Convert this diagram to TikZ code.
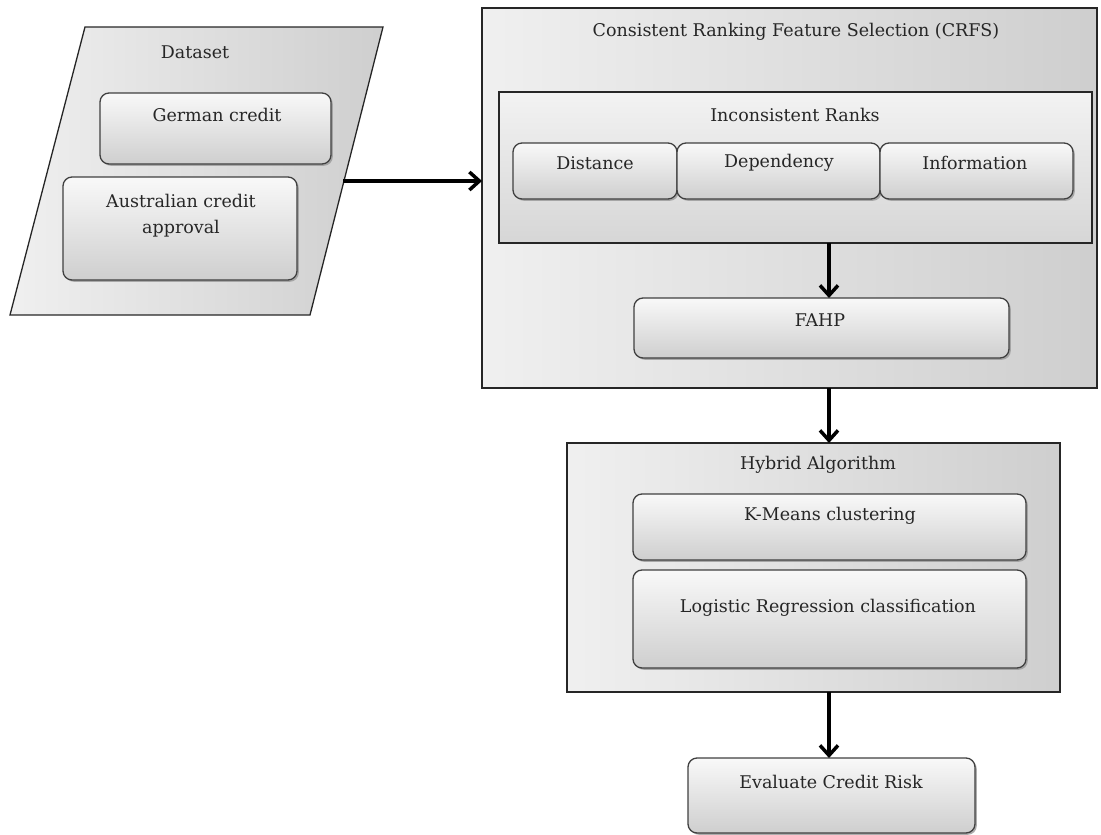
\documentclass[tikz,border=0pt]{standalone}
\usepackage{fontspec}
\setmainfont{DejaVu Serif}
\usetikzlibrary{arrows.meta,shadows}
\begin{document}
\begin{tikzpicture}[x=1pt,y=-1pt,
  every node/.style={inner sep=0pt, outer sep=0pt},
  txt/.style={font=\fontsize{17.5}{21}\selectfont, text=black!85},
  cbox/.style={draw=black!85, line width=1.3pt, shading angle=80, left color=gray!12, right color=gray!38},
  ibox/.style={draw=black!85, line width=1.3pt, top color=gray!10, bottom color=gray!32},
  rbox/.style={draw=black!75, line width=1.3pt, rounded corners=9pt, top color=gray!5, bottom color=gray!38,
     drop shadow={shadow xshift=1.8pt, shadow yshift=-1.8pt, fill=gray!80, opacity=0.8}},
  arr/.style={line width=3.5pt, -{Straight Barb[length=10pt,width=18pt]}}
]
\useasboundingbox (0,0) rectangle (1101,835);
% Dataset parallelogram
\path[draw=black!85, line width=1.3pt, shading angle=80, left color=gray!12, right color=gray!38]
  (85,27) coordinate (dsA) -- (383,27) coordinate (dsB) -- (310,315) coordinate (dsC) -- (10,315) coordinate (dsD) -- cycle;
\coordinate (dsR) at (343,181);
\node[txt] (dstitle) at (195,52) {Dataset};
\node[rbox, minimum width=231pt, minimum height=71pt] (german) at (215.5,128.5) {};
\node[txt] (germantxt) at (217,115) {German credit};
\node[rbox, minimum width=234pt, minimum height=103pt] (austr) at (180,228.5) {};
\node[txt, align=center] (austrtxt) at (181,216) {Australian credit\\[5pt]approval};
% CRFS
\node[cbox, minimum width=615pt, minimum height=380pt] (crfs) at (789.5,198) {};
\node[txt] (crfstitle) at (796,32) {Consistent Ranking Feature Selection (CRFS)};
\node[ibox, minimum width=593pt, minimum height=151pt] (incons) at (795.5,167.5) {};
\node[txt] (incontitle) at (795,115) {Inconsistent Ranks};
\node[rbox, minimum width=164pt, minimum height=56pt] (dist) at (595,171) {};
\node[txt] (disttxt) at (595,163) {Distance};
\node[rbox, minimum width=203pt, minimum height=56pt] (dep) at (778.5,171) {};
\node[txt] (deptxt) at (779,163) {Dependency};
\node[rbox, minimum width=193pt, minimum height=56pt] (info) at (976.5,171) {};
\node[txt] (infotxt) at (975,163) {Information};
\node[rbox, minimum width=375pt, minimum height=60pt] (fahp) at (821.5,328) {};
\node[txt] (fahptxt) at (820,320) {FAHP};
% Hybrid
\node[cbox, minimum width=493pt, minimum height=249pt] (hybrid) at (813.5,567.5) {};
\node[txt] (hybtitle) at (818,465) {Hybrid Algorithm};
\node[rbox, minimum width=393pt, minimum height=66pt] (kmeans) at (829.5,527) {};
\node[txt] (kmtxt) at (830,516) {K-Means clustering};
\node[rbox, minimum width=393pt, minimum height=98pt] (logit) at (829.5,619) {};
\node[txt] (lgtxt) at (828,608) {Logistic Regression classification};
% Evaluate
\node[rbox, minimum width=287pt, minimum height=75pt] (eval) at (831.5,795.5) {};
\node[txt] (evtxt) at (831,782) {Evaluate Credit Risk};
% arrows
\coordinate (ax) at (829,0);
\draw[arr] (dsR) -- (crfs.west |- dsR);
\draw[arr] (incons.south -| ax) -- (fahp.north -| ax);
\draw[arr] (crfs.south -| ax) -- (hybrid.north -| ax);
\draw[arr] (hybrid.south -| ax) -- (eval.north -| ax);
\end{tikzpicture}
\end{document}
